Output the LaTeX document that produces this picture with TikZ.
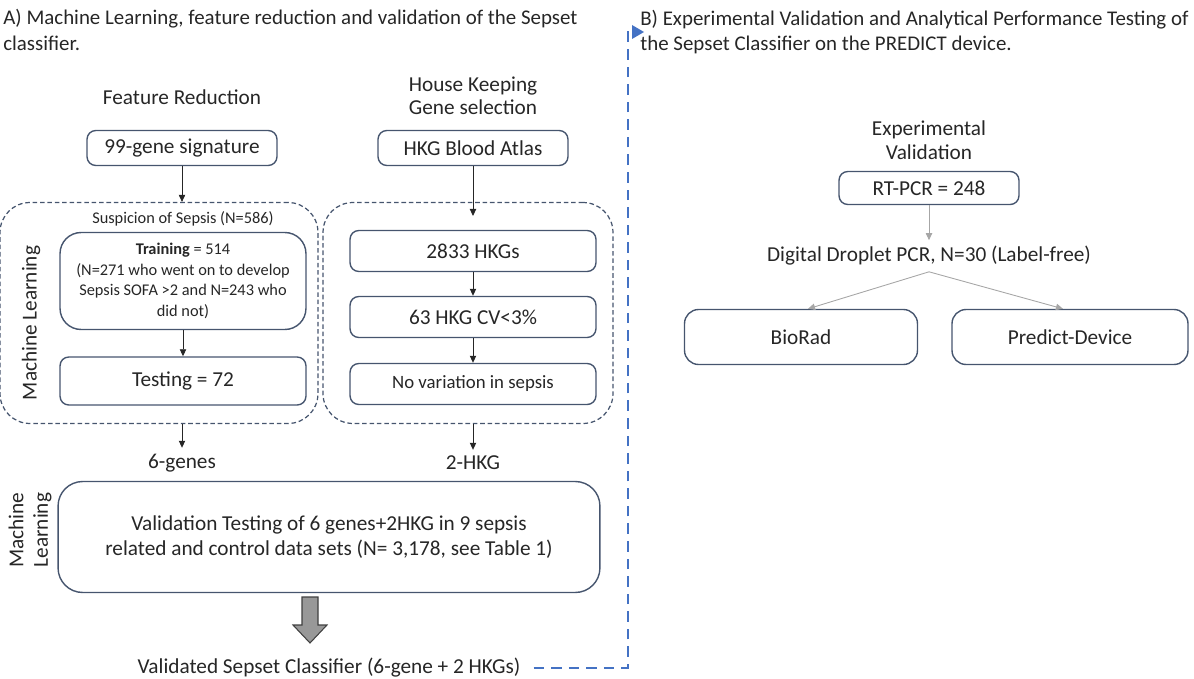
\documentclass[tikz,border=0pt]{standalone}
\usepackage{fontspec}
\setmainfont{Carlito}
\usepackage{tikz}
\usetikzlibrary{arrows.meta,positioning,calc}
\definecolor{boxline}{HTML}{46556E}
\definecolor{linkblue}{HTML}{4472C4}
\definecolor{txt}{HTML}{262626}

\begin{document}
\begin{tikzpicture}[x=0.02cm,y=-0.02cm,
    every node/.style={text=txt},
    big/.style={font=\fontsize{12.1}{14.6}\selectfont},
    head/.style={font=\fontsize{11.9}{14.4}\selectfont, align=left, anchor=west, inner sep=0pt},
    small/.style={font=\fontsize{9.3}{11.7}\selectfont},
    box/.style={draw=boxline, line width=0.8pt, rounded corners=5pt, align=center, inner sep=2pt},
    group/.style={draw=boxline, line width=0.7pt, dash pattern=on 2.6pt off 1.6pt, rounded corners=17pt},
    arr/.style={-{Triangle[length=4pt,width=3.6pt]}, line width=0.5pt, draw=txt},
    garr/.style={-{Triangle[length=4pt,width=3.6pt]}, line width=0.5pt, draw=gray!70},
    link/.style={draw=linkblue, line width=1.7pt, dash pattern=on 6pt off 4pt}]
    \useasboundingbox (0,0) rectangle (1194,679);
    % Titles
    \node[head] (titA) at (3,30) {A) Machine Learning, feature reduction and validation of the Sepset\\classifier.};
    \node[head] (titB) at (640,32) {B) Experimental Validation and Analytical Performance Testing of\\the Sepset Classifier on the PREDICT device.};
    % Left part: feature reduction
    \node[big] (featR) at (182,97) {Feature Reduction};
    \node[big, align=center, font=\fontsize{12.1}{13}\selectfont] (hkSel) at (473,96) {House Keeping\\Gene selection};
    \node[box, big, minimum width=3.8cm, minimum height=0.7cm] (sig) at (182,148) {99-gene signature};
    \node[box, big, minimum width=3.8cm, minimum height=0.7cm] (atlas) at (473,148) {HKG Blood Atlas};
    \node[group, minimum width=6.36cm, minimum height=4.42cm] (lgrp) at (159,313) {};
    \node[group, minimum width=5.8cm, minimum height=4.42cm] (rgrp) at (468,313) {};
    \node[small] (susp) at (183,219) {Suspicion of Sepsis (N=586)};
    \node[box, small, rounded corners=12pt, minimum width=4.92cm, minimum height=1.94cm] (train) at (183,281)
        {\textbf{Training} = 514\\(N=271 who went on to develop\\Sepsis SOFA >2 and N=243 who\\did not)};
    \node[box, big, minimum width=4.92cm, minimum height=0.96cm] (test) at (183,381) {Testing = 72};
    \node[box, big, minimum width=4.92cm, minimum height=0.82cm] (hkgA) at (473,251) {2833 HKGs};
    \node[box, big, minimum width=4.92cm, minimum height=0.82cm] (hkgB) at (473,317) {63 HKG CV<3\%};
    \node[box, font=\fontsize{10.7}{13}\selectfont, minimum width=4.92cm, minimum height=0.82cm] (hkgC) at (473,384) {No variation in sepsis};
    \node[big, rotate=90] (mlA) at (31,323) {Machine Learning};
    \node[big] (gen6) at (182,463) {6-genes};
    \node[big] (hkg2) at (473,463) {2-HKG};
    \node[box, big, rounded corners=14pt, minimum width=10.84cm, minimum height=2.22cm] (valid) at (329,537)
        {Validation Testing of 6 genes+2HKG in 9 sepsis\\related and control data sets (N= 3,178, see Table 1)};
    \node[big, rotate=90, align=center, font=\fontsize{12.1}{14}\selectfont] (mlB) at (30,530) {Machine\\Learning};
    \node[big] (final) at (329,668) {Validated Sepset Classifier (6-gene + 2 HKGs)};
    % Connectors
    \coordinate (atlasEnd) at (473,216);
    \draw[arr] (sig) -- (sig.south |- lgrp.north);
    \draw[arr] (atlas) -- (atlasEnd);
    \draw[arr] (train) -- (test);
    \draw[arr] (hkgA) -- (hkgB);
    \draw[arr] (hkgB) -- (hkgC);
    \draw[arr] (lgrp.south -| gen6) -- (gen6);
    \draw[arr] (rgrp.south -| hkg2) -- (hkg2);
    % Block arrow down
    \draw[fill=gray!85!black!70, draw=gray!50!black, line width=0.6pt]
        (302,597) -- (318,597) -- (318,625) -- (327,625) -- (310,643) -- (293,625) -- (302,625) -- cycle;
    % Link to part B
    \coordinate (bendLow) at (628,668);
    \coordinate (bendTop) at (628,32);
    \coordinate (linkEnd) at (634,32);
    \draw[link] ([xshift=4pt]final.east) -- (bendLow) -- (bendTop) -- (linkEnd);
    \fill[linkblue] (632,25) -- (644,32) -- (632,39) -- cycle;
    % Right part: experimental validation
    \node[big, align=center, font=\fontsize{12.1}{13.6}\selectfont] (expV) at (929,140) {Experimental\\Validation};
    \node[box, big, minimum width=3.6cm, minimum height=0.66cm] (rt) at (929,188) {RT-PCR = 248};
    \node[big] (ddpcr) at (929,256) {Digital Droplet PCR, N=30 (Label-free)};
    \node[box, big, rounded corners=8pt, minimum width=4.66cm, minimum height=1.1cm] (biorad) at (801,337) {BioRad};
    \node[box, big, rounded corners=8pt, minimum width=4.72cm, minimum height=1.1cm] (predict) at (1070,337) {Predict-Device};
    \draw[garr] (rt) -- (ddpcr);
    \draw[garr] (ddpcr.south) -- ([xshift=4pt]biorad.north);
    \draw[garr] (ddpcr.south) -- ([xshift=-4pt]predict.north);
\end{tikzpicture}
\end{document}
